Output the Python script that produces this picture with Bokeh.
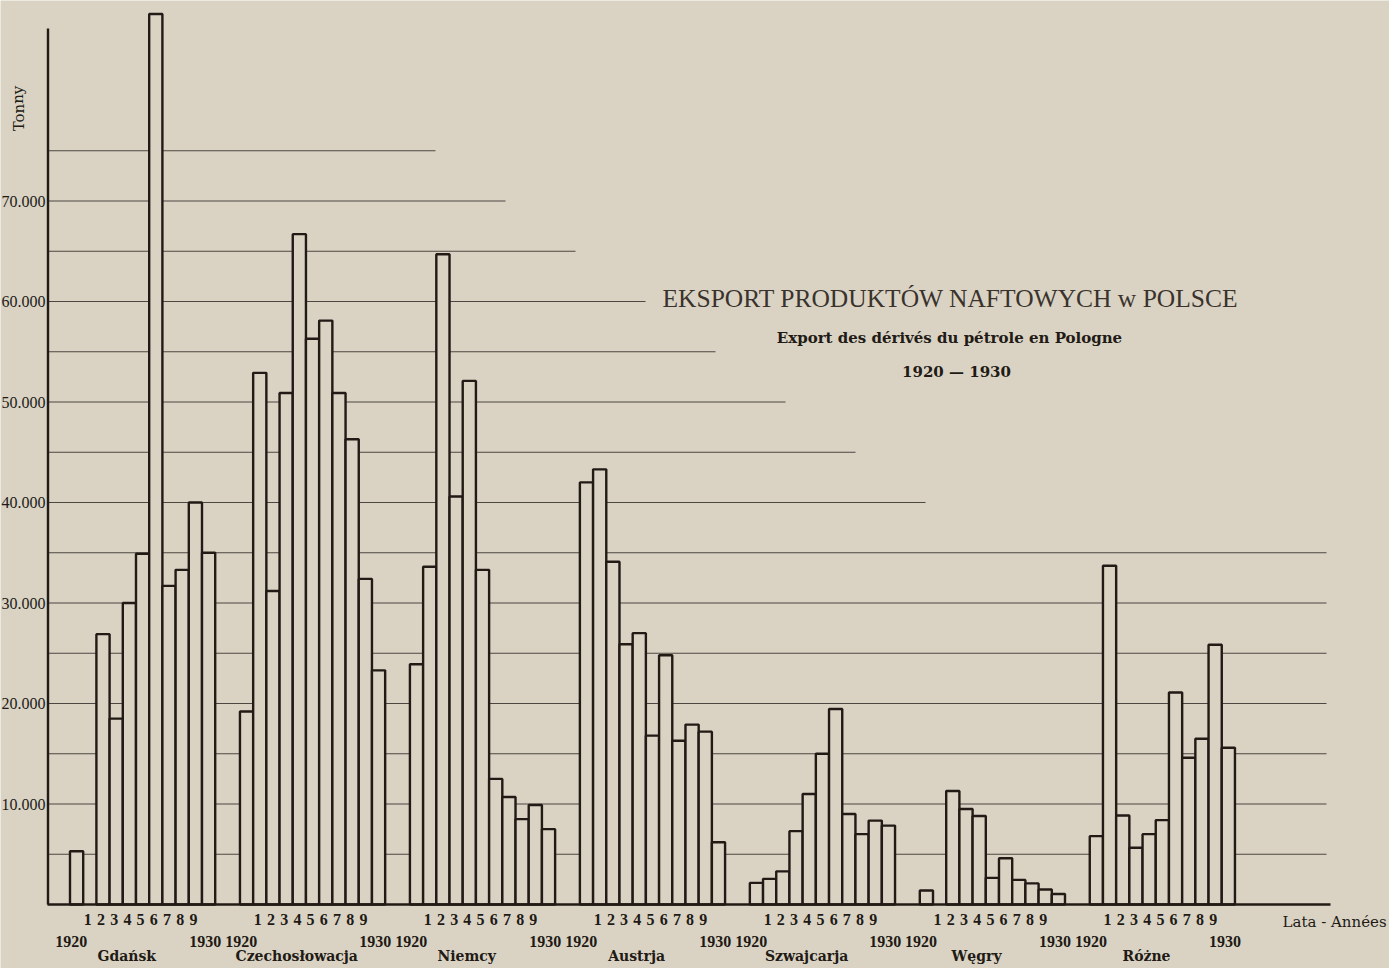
from bokeh.plotting import figure
from bokeh.models import Range1d, Label
from bokeh.core.properties import value
from bokeh.embed import file_html
from bokeh.resources import INLINE

# ---------------- data (tonnes) ----------------
countries = ["Gdańsk", "Czechosłowacja", "Niemcy", "Austrja", "Szwajcarja", "Węgry", "Różne"]
years = list(range(1920, 1931))
year_labels = ["1920", "1", "2", "3", "4", "5", "6", "7", "8", "9", "1930"]

gdansk = [5300, 0, 26900, 18500, 30000, 34900, 88600, 31700, 33300, 40000, 35000]
czechoslowacja = [19200, 52900, 31200, 50900, 66700, 56300, 58100, 50900, 46300, 32400, 23300]
niemcy = [23900, 33600, 64700, 40600, 52100, 33300, 12500, 10700, 8500, 9900, 7500]
austrja = [42000, 43300, 34100, 25900, 27000, 16800, 24800, 16300, 17900, 17200, 6200]
szwajcarja = [2150, 2550, 3300, 7300, 11000, 15000, 19450, 9000, 7000, 8350, 7850]
wegry = [1400, 0, 11300, 9500, 8800, 2650, 4600, 2450, 2100, 1500, 1050]
rozne = [6800, 33700, 8850, 5650, 7000, 8400, 21100, 14600, 16500, 25850, 15600]

y_tick_values = [10000, 20000, 30000, 40000, 50000, 60000, 70000]
y_tick_labels = ["10.000", "20.000", "30.000", "40.000", "50.000", "60.000", "70.000"]
grid_levels = [5000 * k for k in range(1, 16)]

title = "EKSPORT PRODUKTÓW NAFTOWYCH w POLSCE"
subtitle = "Export des dérivés du pétrole en Pologne"
period = "1920 — 1930"
y_title = "Tonny"
x_title = "Lata - Années"

series = [gdansk, czechoslowacja, niemcy, austrja, szwajcarja, wegry, rozne]

# ---------------- layout ----------------
W, H = 1389, 968
SLOT = 13.2            # px per year slot
X0 = 69.5              # px of first slot
STRIDE = 169.96 / SLOT # slots between group starts
PX_PER_T = 100.5 / 10000.0
BASE = 904.0

def dx(px):
    return (px - X0) / SLOT

def dy(py):
    return (BASE - py) / PX_PER_T

BG = "#dad3c4"
INK = "#211a15"
GRID = "#4d4742"

p = figure(width=W, height=H, output_backend="svg", toolbar_location=None,
           x_range=Range1d(dx(0), dx(W)), y_range=Range1d(dy(H), dy(0)),
           min_border=0, min_border_left=0, min_border_right=0,
           min_border_top=0, min_border_bottom=0)
p.axis.visible = False
p.grid.visible = False
p.outline_line_color = None
p.background_fill_color = BG
p.border_fill_color = BG

# gridlines (stair-stepped right ends)
g_end = []
for v in grid_levels:
    if v >= 40000:
        g_end.append(dx(925 - (v - 40000) / 5000 * 70))
    else:
        g_end.append(dx(1326))
p.segment(x0=[dx(48)] * len(grid_levels), y0=grid_levels, x1=g_end, y1=grid_levels,
          line_color=GRID, line_width=1.2)

# bars
left, right, top = [], [], []
for g, vals in enumerate(series):
    for i, v in enumerate(vals):
        if v <= 0:
            continue
        l = g * STRIDE + i
        left.append(l)
        right.append(l + 1)
        top.append(v)
p.quad(left=left, right=right, bottom=0, top=top,
       fill_color=BG, line_color=INK, line_width=2.4)

# axes lines
p.segment(x0=[dx(47)], y0=[0], x1=[dx(1330)], y1=[0], line_color=INK, line_width=2.4)
p.segment(x0=[dx(47.5)], y0=[0], x1=[dx(47.5)], y1=[dy(28)], line_color=INK, line_width=2.4)

# y tick labels
p.text(x=[dx(45)] * len(y_tick_values), y=y_tick_values, text=y_tick_labels,
       text_align="right", text_baseline="middle", text_color=INK,
       text_font=value("Liberation Serif"), text_font_size="16px")

# x tick labels
dig_x, dig_t, yr_x, yr_t, c_x = [], [], [], [], []
for g in range(len(countries)):
    for i, lab in enumerate(year_labels):
        cx = g * STRIDE + i + 0.5
        if i == 0:
            yr_x.append(cx - 0.4); yr_t.append(lab)
        elif i == len(year_labels) - 1:
            yr_x.append(cx - 0.25); yr_t.append(lab)
        else:
            dig_x.append(cx - 0.15); dig_t.append(lab)
    c_x.append(g * STRIDE + 4.3)

p.text(x=dig_x, y=[dy(919)] * len(dig_x), text=dig_t, text_align="center",
       text_baseline="middle", text_color=INK, text_font=value("Liberation Sans Narrow"),
       text_font_style="bold", text_font_size="16px")
p.text(x=yr_x, y=[dy(941)] * len(yr_x), text=yr_t, text_align="center",
       text_baseline="middle", text_color=INK, text_font=value("Liberation Sans Narrow"),
       text_font_style="bold", text_font_size="16px")
p.text(x=c_x, y=[dy(955)] * len(c_x), text=countries, text_align="center",
       text_baseline="middle", text_color=INK, text_font=value("DejaVu Serif"),
       text_font_style="bold", text_font_size="14px")

# annotations
p.add_layout(Label(x=dx(1282), y=dy(921), text=x_title, text_align="left",
                   text_baseline="middle", text_color=INK, text_font="DejaVu Serif",
                   text_font_size="15px"))
p.add_layout(Label(x=dx(18), y=dy(108), text=y_title, angle=1.5708, text_align="center",
                   text_baseline="middle", text_color=INK, text_font="DejaVu Serif",
                   text_font_size="15px"))
p.add_layout(Label(x=dx(950), y=dy(298), text=title, text_align="center",
                   text_baseline="middle", text_color="#3a332d", text_font="Liberation Serif",
                   text_font_size="25.5px"))
p.add_layout(Label(x=dx(949), y=dy(337), text=subtitle, text_align="center",
                   text_baseline="middle", text_color=INK, text_font="DejaVu Serif",
                   text_font_style="bold", text_font_size="15px"))
p.add_layout(Label(x=dx(956), y=dy(371), text=period, text_align="center",
                   text_baseline="middle", text_color=INK, text_font="DejaVu Serif",
                   text_font_style="bold", text_font_size="15px"))

open("out.html", "w").write(file_html(p, INLINE))
